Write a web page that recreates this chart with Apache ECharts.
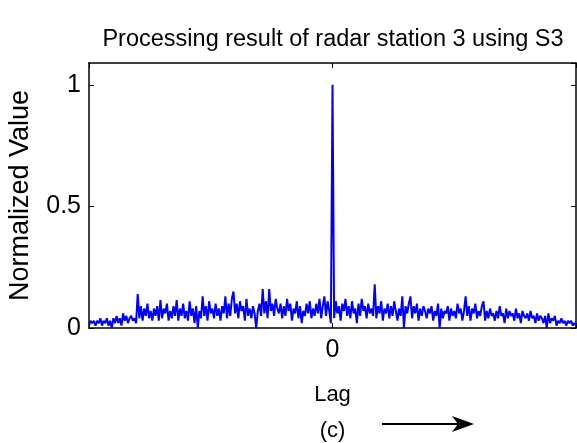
<!DOCTYPE html>
<html>
<head>
<meta charset="utf-8">
<style>
html,body{margin:0;padding:0;background:#fff;}
#chart{width:577px;height:443px;}
</style>
<script src="https://cdn.jsdelivr.net/npm/echarts@6/dist/echarts.min.js"></script>
</head>
<body>
<div id="chart"></div>
<script>
// Normalized correlation values, lag -150 ... 150 (step 1)
const values = [
  0.01,0.03,0.02,0.03,0.01,0.03,0.02,0.04,0.01,0.03,
  0.02,0.04,0.01,0.03,0.00,0.04,0.02,0.05,0.02,0.04,
  0.01,0.06,0.03,0.05,0.02,0.04,0.05,0.03,0.04,0.02,
  0.14,0.04,0.09,0.03,0.08,0.05,0.10,0.04,0.07,0.03,
  0.08,0.05,0.09,0.03,0.115,0.04,0.08,0.06,0.10,0.03,
  0.07,0.04,0.09,0.05,0.115,0.03,0.08,0.05,0.10,0.04,
  0.07,0.03,0.11,0.05,0.08,0.02,0.09,0.00,0.07,0.04,
  0.13,0.05,0.09,0.03,0.11,0.06,0.08,0.04,0.10,0.05,
  0.08,0.03,0.09,0.06,0.13,0.04,0.10,0.05,0.12,0.15,
  0.06,0.10,0.04,0.11,0.07,0.09,0.03,0.12,0.05,0.08,
  0.04,0.09,0.06,0.00,0.07,0.10,0.05,0.16,0.06,0.11,
  0.04,0.16,0.07,0.10,0.05,0.12,0.08,0.06,0.10,0.04,
  0.09,0.05,0.12,0.07,0.10,0.03,0.08,0.06,0.11,0.04,
  0.09,0.02,0.07,0.05,0.10,0.06,0.11,0.04,0.08,0.05,
  0.10,0.06,0.12,0.04,0.09,0.13,0.05,0.11,0.07,0.02,
  1.00,
  0.04,0.11,0.06,0.09,0.03,0.10,0.07,0.12,0.05,0.09,
  0.04,0.11,0.06,0.08,0.02,0.10,0.05,0.12,0.07,0.09,
  0.04,0.10,0.06,0.08,0.05,0.18,0.04,0.09,0.06,0.11,
  0.03,0.08,0.06,0.10,0.04,0.09,0.05,0.11,0.07,0.03,
  0.08,0.05,0.13,0.00,0.09,0.06,0.10,0.13,0.04,0.09,
  0.06,0.10,0.03,0.08,0.05,0.09,0.07,0.04,0.08,0.06,
  0.09,0.03,0.07,0.05,0.10,0.00,0.08,0.04,0.07,0.06,
  0.09,0.03,0.08,0.05,0.07,0.04,0.10,0.06,0.08,0.03,
  0.07,0.13,0.05,0.09,0.03,0.08,0.06,0.10,0.04,0.07,
  0.05,0.09,0.11,0.03,0.07,0.04,0.08,0.05,0.06,0.03,
  0.07,0.04,0.09,0.05,0.06,0.02,0.08,0.04,0.07,0.05,
  0.06,0.03,0.08,0.04,0.06,0.02,0.07,0.05,0.04,0.06,
  0.03,0.07,0.04,0.05,0.02,0.06,0.03,0.05,0.04,0.02,
  0.05,0.00,0.06,0.02,0.04,0.03,0.05,0.01,0.03,0.02,
  0.04,0.02,0.03,0.01,0.03,0.02,0.03,0.01,0.02,0.01
];
const lagStart = -150;
const xTickLabels = ['0'];
const yTickLabels = ['0', '0.5', '1'];
const titleText = 'Processing result of radar station 3 using S3';
const xName = 'Lag\n(c)';
const yName = 'Normalized Value';

const seriesData = values.map((v, i) => [lagStart + i, v]);

const chart = echarts.init(document.getElementById('chart'), null, {renderer: 'canvas'});
const FONT = '"Liberation Sans", Arial, sans-serif';
const lineAx = {show: true, onZero: false, lineStyle: {color: '#000', width: 1.5}};
const tickAx = {show: true, inside: true, length: 5, lineStyle: {color: '#000'}};
chart.setOption({
  animation: false,
  backgroundColor: '#ffffff',
  title: {
    text: titleText,
    left: 328, textAlign: 'center', top: 23,
    textStyle: {fontFamily: FONT, fontSize: 23.5, fontWeight: 'normal', color: '#000'}
  },
  grid: {left: 89, right: 1, top: 63, bottom: 115, show: false, outerBoundsMode: 'none', containLabel: false},
  xAxis: [{
    type: 'value', min: -150, max: 150, interval: 150,
    name: xName, nameLocation: 'middle', nameGap: 49,
    nameTextStyle: {fontFamily: FONT, fontSize: 22, color: '#000', lineHeight: 36},
    axisLine: lineAx, axisTick: tickAx,
    axisLabel: {fontFamily: FONT, fontSize: 25, color: '#000', margin: 10,
      formatter: v => xTickLabels.includes(String(v)) ? String(v) : ''},
    splitLine: {show: false}
  }, {
    type: 'value', min: -150, max: 150, interval: 150, position: 'top',
    axisLine: lineAx, axisTick: tickAx,
    axisLabel: {show: false}, splitLine: {show: false}
  }],
  yAxis: [{
    type: 'value', min: 0, max: 1.09, interval: 0.5,
    name: yName, nameLocation: 'middle', nameGap: 55, nameRotate: 90,
    nameTextStyle: {fontFamily: FONT, fontSize: 27, color: '#000'},
    axisLine: lineAx, axisTick: tickAx,
    axisLabel: {fontFamily: FONT, fontSize: 25, color: '#000', margin: 8, showMaxLabel: false,
      formatter: v => { const s = String(v); return yTickLabels.includes(s) ? s : ''; }},
    splitLine: {show: false}
  }, {
    type: 'value', min: 0, max: 1.09, interval: 0.5, position: 'right',
    axisLine: lineAx, axisTick: tickAx,
    axisLabel: {show: false}, splitLine: {show: false}
  }],
  series: [{
    type: 'line', data: seriesData, xAxisIndex: 0, yAxisIndex: 0,
    showSymbol: false, symbol: 'none',
    lineStyle: {color: '#0000ff', width: 2}
  }],
  graphic: [
    {type: 'line', shape: {x1: 382, y1: 424, x2: 462, y2: 424}, style: {stroke: '#000', lineWidth: 2}},
    {type: 'polygon', shape: {points: [[452, 416], [474, 424], [452, 432], [458, 424]]}, style: {fill: '#000'}}
  ]
});
</script>
</body>
</html>
